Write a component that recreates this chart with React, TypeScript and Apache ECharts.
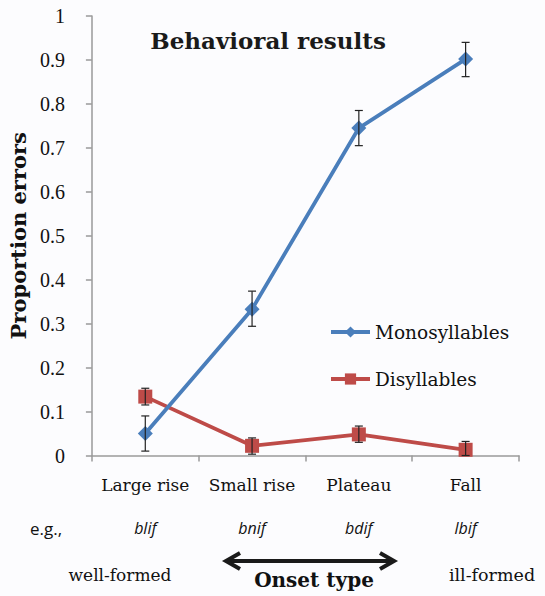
import React, { useEffect, useRef } from 'react';
import * as echarts from 'echarts';

const categories = ['Large rise', 'Small rise', 'Plateau', 'Fall'];
const examples = ['blif', 'bnif', 'bdif', 'lbif'];
const monoValues = [0.05, 0.333, 0.745, 0.902];
const monoLow = [0.01, 0.294, 0.705, 0.862];
const monoHigh = [0.09, 0.374, 0.785, 0.94];
const diValues = [0.134, 0.022, 0.048, 0.013];
const diLow = [0.115, 0.003, 0.03, 0.0];
const diHigh = [0.153, 0.04, 0.067, 0.032];

const SERIF = '"DejaVu Serif", "Liberation Serif", serif';
const NUM = '"Liberation Serif", serif';
const SANS = '"Open Sans", "Liberation Sans", sans-serif';
const BLUE = '#4a7ebb';
const RED = '#be4b48';

function errorSeries(low: number[], high: number[]) {
  return {
    type: 'custom',
    silent: true,
    z: 5,
    data: low.map((l, i) => [i, l, high[i]]),
    renderItem: (params: any, api: any) => {
      const x = api.value(0);
      const lo = api.coord([x, api.value(1)]);
      const hi = api.coord([x, api.value(2)]);
      const w = 4;
      const style = { stroke: '#222', lineWidth: 1.2 };
      return {
        type: 'group',
        children: [
          { type: 'line', shape: { x1: lo[0], y1: lo[1], x2: hi[0], y2: hi[1] }, style },
          { type: 'line', shape: { x1: lo[0] - w, y1: lo[1], x2: lo[0] + w, y2: lo[1] }, style },
          { type: 'line', shape: { x1: hi[0] - w, y1: hi[1], x2: hi[0] + w, y2: hi[1] }, style },
        ],
      };
    },
  };
}

export default function App() {
  const ref = useRef<HTMLDivElement>(null);
  useEffect(() => {
    if (!ref.current) return;
    const chart = echarts.init(ref.current, null, { renderer: 'svg' });
    chart.setOption({
      animation: false,
      backgroundColor: '#fcfcfe',
      grid: { left: 88.5, right: 26, top: 16, bottom: 140.5 },
      xAxis: {
        type: 'category',
        data: categories,
        boundaryGap: true,
        axisLine: { lineStyle: { color: '#9a9a9a', width: 1.5 } },
        axisTick: { show: true, length: 6, lineStyle: { color: '#9a9a9a', width: 1.5 } },
        axisLabel: {
          margin: 8,
          color: '#111',
          formatter: (v: string, i: number) => `{a|${v}}\n{b|${examples[i]}}`,
          rich: {
            a: { fontFamily: SERIF, fontSize: 17, lineHeight: 43, color: '#111' },
            b: { fontFamily: SANS, fontStyle: 'italic', fontSize: 16, lineHeight: 43, color: '#111' },
          },
        },
      },
      yAxis: {
        type: 'value',
        min: 0,
        max: 1,
        interval: 0.1,
        name: 'Proportion errors',
        nameLocation: 'middle',
        nameGap: 62,
        nameTextStyle: { fontFamily: SERIF, fontWeight: 'bold', fontSize: 21, color: '#111' },
        splitLine: { show: false },
        axisLine: { show: true, lineStyle: { color: '#9a9a9a', width: 1.5 } },
        axisTick: { show: true, length: 6, lineStyle: { color: '#9a9a9a', width: 1.5 } },
        axisLabel: {
          margin: 27,
          fontFamily: NUM,
          fontSize: 20,
          color: '#111',
          formatter: (v: number) => (v === 0 ? '0' : v === 1 ? '1' : (Math.round(v * 10) / 10).toFixed(1)),
        },
      },
      legend: {
        orient: 'vertical',
        left: 324,
        top: 317,
        itemWidth: 39,
        itemHeight: 14,
        itemGap: 27,
        lineStyle: { width: 4 },
        textStyle: { fontFamily: SERIF, fontSize: 18.5, lineHeight: 20, color: '#111' },
        data: ['Monosyllables', 'Disyllables'],
      },
      series: [
        {
          name: 'Monosyllables',
          type: 'line',
          data: monoValues,
          symbol: 'diamond',
          symbolSize: 15,
          lineStyle: { color: BLUE, width: 3.8 },
          itemStyle: { color: BLUE },
          z: 3,
        },
        {
          name: 'Disyllables',
          type: 'line',
          data: diValues,
          symbol: 'rect',
          symbolSize: 14,
          lineStyle: { color: RED, width: 3.8 },
          itemStyle: { color: RED },
          z: 2,
        },
        errorSeries(monoLow, monoHigh),
        errorSeries(diLow, diHigh),
      ],
      graphic: [
        {
          type: 'text',
          x: 268,
          y: 40,
          style: {
            text: 'Behavioral results',
            font: `bold 23px ${SERIF}`,
            fill: '#1a1a1a',
            textAlign: 'center',
            textVerticalAlign: 'middle',
          },
        },
        {
          type: 'text',
          x: 46,
          y: 528,
          style: { text: 'e.g.,', font: `17px ${SANS}`, fill: '#111', textAlign: 'center', textVerticalAlign: 'middle' },
        },
        {
          type: 'text',
          x: 120,
          y: 575,
          style: { text: 'well-formed', font: `17px ${SERIF}`, fill: '#111', textAlign: 'center', textVerticalAlign: 'middle' },
        },
        {
          type: 'text',
          x: 492,
          y: 575,
          style: { text: 'ill-formed', font: `17.5px ${SERIF}`, fill: '#111', textAlign: 'center', textVerticalAlign: 'middle' },
        },
        {
          type: 'text',
          x: 314,
          y: 580,
          style: { text: 'Onset type', font: `bold 20px ${SERIF}`, fill: '#111', textAlign: 'center', textVerticalAlign: 'middle' },
        },
        {
          type: 'line',
          shape: { x1: 227, y1: 561, x2: 393, y2: 561 },
          style: { stroke: '#1a1a1a', lineWidth: 4 },
        },
        {
          type: 'polyline',
          shape: { points: [[240, 553], [226, 561], [240, 569]] },
          style: { stroke: '#1a1a1a', lineWidth: 4, fill: null },
        },
        {
          type: 'polyline',
          shape: { points: [[380, 553], [394, 561], [380, 569]] },
          style: { stroke: '#1a1a1a', lineWidth: 4, fill: null },
        },
      ],
    });
    return () => chart.dispose();
  }, []);
  return <div ref={ref} style={{ position: 'fixed', left: 0, top: 0, width: 545, height: 596 }} />;
}
